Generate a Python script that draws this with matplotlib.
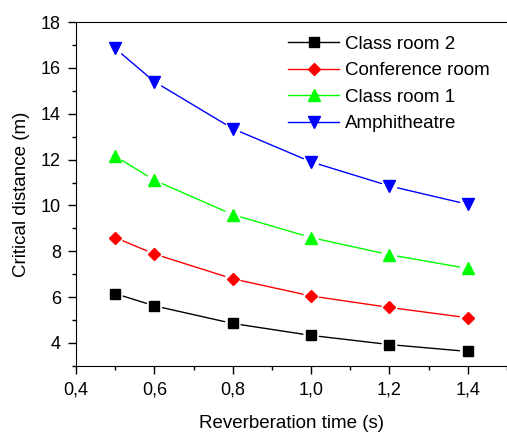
import numpy as np
import matplotlib.pyplot as plt
from matplotlib.lines import Line2D
from matplotlib.ticker import MultipleLocator, FuncFormatter

plt.rcParams['font.family'] = ['Liberation Sans', 'DejaVu Sans']

# reverberation time (s)
rt = [0.5, 0.6, 0.8, 1.0, 1.2, 1.4]

# critical distance (m) for each room
class_room_2 = [6.15, 5.62, 4.85, 4.33, 3.93, 3.63]
conference_room = [8.6, 7.88, 6.8, 6.05, 5.55, 5.1]
class_room_1 = [12.15, 11.1, 9.6, 8.6, 7.85, 7.25]
amphitheatre = [16.85, 15.4, 13.35, 11.9, 10.85, 10.05]

series = [
    ('Class room 2', class_room_2, 'black', 's', 7),
    ('Conference room', conference_room, 'red', 'D', 6),
    ('Class room 1', class_room_1, '#00ff00', '^', 9),
    ('Amphitheatre', amphitheatre, 'blue', 'v', 9),
]

fig = plt.figure(figsize=(5.07, 4.33), dpi=100)
ax = fig.add_axes([0.15, 0.155, 0.85, 0.794])
ax.set_xlim(0.4, 1.5)
ax.set_ylim(3, 18)

handles = []
for name, vals, col, mk, ms in series:
    ax.plot(rt, vals, ls='none', marker=mk, ms=ms, color=col, zorder=3)
    # connecting segments stop short of the symbols
    for i in range(len(rt) - 1):
        ax.annotate('', xy=(rt[i + 1], vals[i + 1]), xytext=(rt[i], vals[i]),
                    arrowprops=dict(arrowstyle='-', color=col, lw=1,
                                    shrinkA=6, shrinkB=6))
    handles.append(Line2D([], [], color=col, marker=mk, ms=ms, lw=1, label=name))

ax.xaxis.set_major_locator(MultipleLocator(0.2))
ax.xaxis.set_minor_locator(MultipleLocator(0.1))
ax.yaxis.set_major_locator(MultipleLocator(2))
ax.yaxis.set_minor_locator(MultipleLocator(1))
ax.xaxis.set_major_formatter(FuncFormatter(lambda v, p: ('%.1f' % v).replace('.', ',')))
ax.tick_params(which='major', direction='out', length=6, width=1, labelsize=13, pad=5)
ax.tick_params(which='minor', direction='out', length=3, width=1)
ax.spines['right'].set_visible(False)

ax.set_xlabel('Reverberation time (s)', fontsize=13.5, labelpad=12)
ax.set_ylabel('Critical distance (m)', fontsize=13.5, labelpad=8)

ax.legend(handles=handles, loc='upper right', frameon=False, fontsize=13.5,
          handlelength=2.7, handletextpad=0.35, labelspacing=0.5,
          bbox_to_anchor=(1.0, 1.01))

fig.savefig('out.png', dpi=100)
